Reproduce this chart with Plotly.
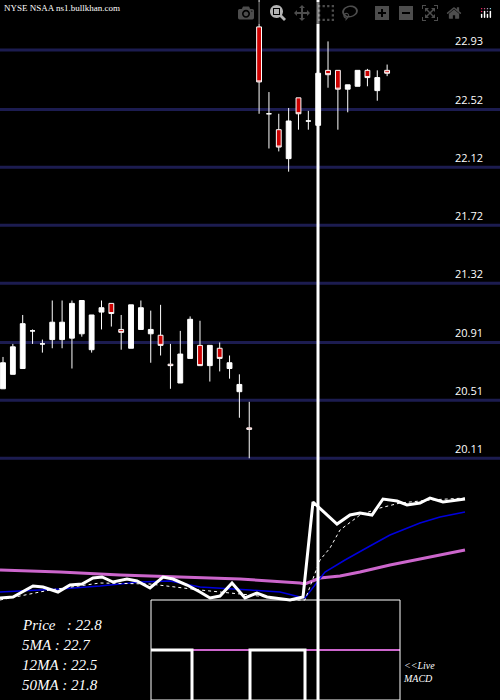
import plotly.graph_objects as go

# daily candles (NYSE NSAA)
opens = [20.59, 20.69, 20.73, 20.99, 20.90, 20.93, 20.93, 20.94, 20.97, 20.86,
         21.12, 21.18, 21.00, 20.87, 21.00, 20.97, 20.96, 20.76, 20.63, 20.80,
         20.89, 20.75, 20.87, 20.73, 20.57, 20.32, 23.09, 22.49, 22.38, 22.18,
         22.60, 22.44, 22.41, 22.79, 22.79, 22.66, 22.68, 22.79, 22.65, 22.79]
highs = [20.81, 20.90, 21.10, 21.00, 20.93, 21.20, 21.20, 21.20, 21.20, 21.10,
         21.20, 21.18, 21.10, 21.17, 21.20, 21.13, 21.17, 20.90, 20.99, 21.09,
         21.06, 20.89, 20.91, 20.82, 20.69, 20.50, 23.35, 22.64, 22.49, 22.53,
         22.60, 22.51, 22.77, 22.99, 22.79, 22.69, 22.79, 22.80, 22.79, 22.83]
lows = [20.59, 20.69, 20.73, 20.90, 20.84, 20.87, 20.87, 20.73, 20.95, 20.84,
        21.00, 21.02, 20.86, 20.87, 21.00, 20.77, 20.82, 20.59, 20.63, 20.80,
        20.75, 20.64, 20.71, 20.66, 20.39, 20.11, 22.49, 22.25, 22.23, 22.09,
        22.38, 22.38, 22.41, 22.67, 22.38, 22.50, 22.68, 22.68, 22.58, 22.75]
closes = [20.77, 20.88, 21.04, 20.99, 20.90, 21.05, 21.05, 21.18, 21.20, 21.10,
          21.15, 21.11, 20.98, 21.17, 21.15, 21.00, 20.89, 20.75, 20.83, 21.07,
          20.75, 20.89, 20.80, 20.77, 20.62, 20.31, 22.71, 22.49, 22.26, 22.44,
          22.49, 22.44, 22.77, 22.76, 22.66, 22.69, 22.79, 22.74, 22.74, 22.77]
price_levels = [22.93, 22.52, 22.12, 21.72, 21.32, 20.91, 20.51, 20.11]

# lower indicator panel (screen-like scale, 0 at top)
ind_x = [0, 13, 33, 43, 58, 70, 82, 93, 102, 113, 127, 137, 150, 163, 173, 187, 200,
         210, 220, 232, 245, 257, 267, 277, 290, 303, 313, 337, 350, 360, 372, 383,
         397, 407, 420, 430, 443, 465]
ind_price = [598, 597, 586, 587, 592, 585, 584, 578, 577, 582, 579, 581, 588, 577, 579,
             585, 592, 598, 596, 583, 598, 593, 597, 598, 600, 597, 502, 524, 515, 513,
             515, 499, 501, 505, 503, 498, 502, 499]
ma5_x = [0, 50, 100, 150, 200, 250, 290, 305, 320, 330, 340, 360, 380, 400, 430, 465]
ma5 = [600, 590, 583, 584, 590, 595, 600, 600, 560, 548, 530, 515, 508, 503, 500, 498]
ma12_x = [0, 60, 100, 140, 170, 200, 250, 280, 300, 305, 325, 345, 370, 390, 420, 440, 465]
ma12 = [592, 589, 586, 582, 581, 587, 590, 592, 597, 598, 572, 560, 546, 535, 523, 517, 512]
ma50_x = [0, 60, 120, 180, 240, 300, 305, 320, 340, 360, 390, 420, 465]
ma50 = [570, 572, 575, 577, 579, 583, 584, 578, 576, 572, 565, 559, 550]
macd_up_x = [151, 192, 192, None, 250, 250, 305, 305]
macd_up = [650, 650, 700, None, 700, 650, 650, 700]
macd_dn_x = [192, 250, None, 305, 400]
macd_dn = [650, 650, None, 650, 650]

labels = ["Price   : 22.8", "5MA : 22.7", "12MA : 22.5", "50MA : 21.8"]

fig = go.Figure()

fig.add_trace(go.Candlestick(
    x=list(range(len(opens))), open=opens, high=highs, low=lows, close=closes,
    increasing=dict(line=dict(color='white', width=1), fillcolor='white'),
    decreasing=dict(line=dict(color='white', width=1), fillcolor='#cc0000'),
    whiskerwidth=0, showlegend=False, hoverinfo='skip'
))

lower = dict(xaxis='x2', yaxis='y2', mode='lines', showlegend=False, hoverinfo='skip')
fig.add_trace(go.Scatter(x=ma50_x, y=ma50, line=dict(color='#cc66cc', width=3), **lower))
fig.add_trace(go.Scatter(x=ma12_x, y=ma12, line=dict(color='#0000dd', width=1.5), **lower))
fig.add_trace(go.Scatter(x=ma5_x, y=ma5, line=dict(color='white', width=1, dash='dot'), **lower))
fig.add_trace(go.Scatter(x=ind_x, y=ind_price, line=dict(color='white', width=3), **lower))
fig.add_trace(go.Scatter(x=macd_dn_x, y=macd_dn, line=dict(color='#cc66cc', width=2), **lower))
fig.add_trace(go.Scatter(x=macd_up_x, y=macd_up, line=dict(color='white', width=3), **lower))

shapes = []
for lv in price_levels:
    shapes.append(dict(type='line', xref='paper', yref='y', x0=0, x1=1, y0=lv, y1=lv,
                       line=dict(color='#1c1c50', width=3), layer='below'))
shapes.append(dict(type='rect', xref='x2', yref='y2', x0=151, x1=400, y0=600, y1=700,
                   line=dict(color='white', width=1)))
shapes.append(dict(type='line', xref='x2', yref='y2', x0=318, x1=318, y0=0, y1=700,
                   line=dict(color='white', width=3)))

annotations = [dict(xref='paper', yref='y', x=0.97, y=lv, text=f"{lv:.2f}", showarrow=False,
                    xanchor='right', yanchor='bottom', font=dict(color='white', size=11))
               for lv in price_levels]
annotations.append(dict(xref='x2', yref='y2', x=2, y=8, text="NYSE NSAA ns1.bullkhan.com",
                        showarrow=False, xanchor='left', yanchor='middle',
                        font=dict(color='white', size=9, family='Liberation Serif')))
for i, t in enumerate(labels):
    annotations.append(dict(xref='x2', yref='y2', x=20, y=625 + 20 * i, text=f"<i>{t}</i>",
                            showarrow=False, xanchor='left', yanchor='middle',
                            font=dict(color='white', size=15, family='Liberation Serif')))
annotations.append(dict(xref='x2', yref='y2', x=401, y=672, text="<i><<Live<br>MACD</i>",
                        showarrow=False, xanchor='left', yanchor='middle', align='left',
                        font=dict(color='white', size=10, family='Liberation Serif')))

fig.update_layout(
    width=500, height=700, margin=dict(l=0, r=0, t=0, b=0),
    paper_bgcolor='black', plot_bgcolor='black',
    xaxis=dict(range=[-0.305, 50.46], visible=False, rangeslider=dict(visible=False), fixedrange=True),
    yaxis=dict(range=[18.44, 23.276], visible=False),
    xaxis2=dict(range=[0, 500], visible=False, overlaying='x'),
    yaxis2=dict(range=[700, 0], visible=False, overlaying='y'),
    shapes=shapes, annotations=annotations,
)

# page body has a default 8px margin; drop it so the chart sits at the window corner
fig.write_html("out.html", post_script="document.body.style.margin='0';")
